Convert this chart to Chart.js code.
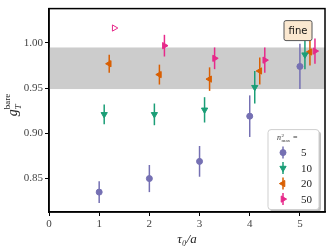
<!DOCTYPE html>
<html>
<head>
<meta charset="utf-8">
<script src="https://cdn.jsdelivr.net/npm/chart.js@4.4.1/dist/chart.umd.min.js"></script>
<style>
  html, body { margin: 0; padding: 0; background: #fff; }
  #wrap { width: 332px; height: 251px; }
</style>
</head>
<body>
<div id="wrap"><canvas id="chart"></canvas></div>
<script>
// data
const legendLabels = ['5', '10', '20', '50'];
const xTicks = [0, 1, 2, 3, 4, 5];
const yTicks = [0.85, 0.90, 0.95, 1.00];
const bandLo = 0.949;
const bandHi = 0.995;

const tau5 = [1, 2, 3, 4, 5];
const g5 = [0.835, 0.850, 0.869, 0.919, 0.974];
const err5 = [0.012, 0.015, 0.017, 0.023, 0.025];

const tau10 = [1.1, 2.1, 3.1, 4.1, 5.1];
const g10 = [0.921, 0.921, 0.926, 0.951, 0.987];
const err10 = [0.011, 0.012, 0.014, 0.018, 0.016];

const tau20 = [1.2, 2.2, 3.2, 4.2, 5.2];
const g20 = [0.977, 0.965, 0.960, 0.969, 0.990];
const err20 = [0.010, 0.011, 0.013, 0.015, 0.015];

const tau50 = [2.3, 3.3, 4.3, 5.3];
const g50 = [0.997, 0.983, 0.981, 0.991];
const err50 = [0.012, 0.012, 0.014, 0.014];

const tau50open = [1.3];
const g50open = [1.0165];
const err50open = [0.002];

const colors = ['#7570b3', '#1b9e77', '#d95f02', '#e7298a'];

const pts = (xs, ys) => xs.map((x, i) => ({ x, y: ys[i] }));

const makeSet = (label, xs, ys, errs, color, style, rot, fill) => ({
    label,
    data: pts(xs, ys),
    errs,
    showLine: false,
    borderColor: color,
    backgroundColor: fill || color,
    pointStyle: style,
    rotation: rot,
    pointRadius: style === 'circle' ? 3 : 3.6,
    pointBorderWidth: 1,
    pointHoverRadius: 3
});

const datasets = [
    makeSet(legendLabels[0], tau5, g5, err5, colors[0], 'circle', 0),
    makeSet(legendLabels[1], tau10, g10, err10, colors[1], 'triangle', 180),
    makeSet(legendLabels[2], tau20, g20, err20, colors[2], 'triangle', 270),
    makeSet(legendLabels[3], tau50, g50, err50, colors[3], 'triangle', 90),
    makeSet('', tau50open, g50open, err50open, colors[3], 'triangle', 90, '#ffffff')
];

// grey band + error bars, under the markers
const underlay = {
    id: 'underlay',
    beforeDatasetsDraw(chart) {
        const { ctx, chartArea, scales } = chart;
        const x = scales.x, y = scales.y;
        ctx.save();
        ctx.fillStyle = '#cccccc';
        const top = y.getPixelForValue(bandHi), bot = y.getPixelForValue(bandLo);
        ctx.fillRect(chartArea.left, top, chartArea.right - chartArea.left, bot - top);
        ctx.lineWidth = 1.5;
        chart.data.datasets.forEach(ds => {
            ctx.strokeStyle = ds.borderColor;
            ds.data.forEach((p, i) => {
                const px = x.getPixelForValue(p.x);
                ctx.beginPath();
                ctx.moveTo(px, y.getPixelForValue(p.y - ds.errs[i]));
                ctx.lineTo(px, y.getPixelForValue(p.y + ds.errs[i]));
                ctx.stroke();
            });
        });
        ctx.restore();
    }
};

// frame, axis title, "fine" tag, legend
const overlay = {
    id: 'overlay',
    afterDraw(chart) {
        const { ctx, chartArea: a } = chart;
        ctx.save();
        ctx.strokeStyle = '#000';
        ctx.lineWidth = 1.5;
        ctx.strokeRect(a.left, a.top, a.right - a.left, a.bottom - a.top);

        // y title g_T^bare
        ctx.save();
        ctx.translate(13, (a.top + a.bottom) / 2 - 6);
        ctx.rotate(-Math.PI / 2);
        ctx.fillStyle = '#222';
        ctx.textBaseline = 'alphabetic';
        ctx.font = 'italic 14px "Liberation Serif", serif';
        ctx.fillText('g', -12, 4);
        ctx.font = 'italic 9px "Liberation Serif", serif';
        ctx.fillText('T', -5, 8);
        ctx.font = '9px "Liberation Serif", serif';
        ctx.fillText('bare', -5, -3);
        ctx.restore();

        // "fine" tag
        const fx = a.right - 41, fy = a.top + 12;
        ctx.fillStyle = '#fbe8d0';
        ctx.strokeStyle = '#555';
        ctx.lineWidth = 1;
        ctx.beginPath();
        ctx.roundRect(fx, fy, 28, 20, 2);
        ctx.fill();
        ctx.stroke();
        ctx.fillStyle = '#111';
        ctx.font = '10px "DejaVu Sans", sans-serif';
        ctx.textAlign = 'center';
        ctx.textBaseline = 'middle';
        ctx.fillText('fine', fx + 14, fy + 10.5);

        // legend box
        const lx = a.left + 219, ly = a.top + 121, lw = 51, lh = 80;
        ctx.fillStyle = 'rgba(0,0,0,0.25)';
        ctx.beginPath();
        ctx.roundRect(lx + 2, ly + 2, lw, lh, 3);
        ctx.fill();
        ctx.fillStyle = '#fff';
        ctx.strokeStyle = '#cfcfcf';
        ctx.beginPath();
        ctx.roundRect(lx, ly, lw, lh, 3);
        ctx.fill();
        ctx.stroke();

        // legend title n^2_max =
        ctx.fillStyle = '#333';
        ctx.textAlign = 'left';
        ctx.textBaseline = 'alphabetic';
        ctx.font = 'italic 8px "Liberation Serif", serif';
        ctx.fillText('n', lx + 9, ly + 10);
        ctx.font = '5px "Liberation Serif", serif';
        ctx.fillText('2', lx + 13.5, ly + 7);
        ctx.fillText('max', lx + 13.5, ly + 12);
        ctx.font = '8px "Liberation Serif", serif';
        ctx.fillText('=', lx + 25, ly + 10);

        const helpers = Chart.helpers;
        chart.data.datasets.slice(0, 4).forEach((ds, i) => {
            const mx = lx + 15, my = ly + 23 + i * 15.5;
            ctx.strokeStyle = ds.borderColor;
            ctx.fillStyle = ds.backgroundColor;
            ctx.lineWidth = 1.5;
            ctx.beginPath();
            ctx.moveTo(mx, my - 6);
            ctx.lineTo(mx, my + 6);
            ctx.stroke();
            ctx.lineWidth = 1;
            helpers.drawPoint(ctx, {
                pointStyle: ds.pointStyle,
                rotation: ds.rotation,
                radius: ds.pointRadius,
                borderWidth: 1
            }, mx, my);
            ctx.fillStyle = '#222';
            ctx.font = '11px "Liberation Serif", serif';
            ctx.textBaseline = 'middle';
            ctx.fillText(ds.label, lx + 33, my + 1);
        });
        ctx.restore();
    }
};

new Chart(document.getElementById('chart'), {
    type: 'scatter',
    data: { datasets },
    plugins: [underlay, overlay],
    options: {
        responsive: true,
        maintainAspectRatio: false,
        animation: false,
        layout: { padding: { top: 7, right: 7, left: 0, bottom: 0 } },
        plugins: {
            legend: { display: false },
            tooltip: { enabled: false }
        },
        scales: {
            x: {
                type: 'linear',
                min: 0,
                max: 5.5,
                afterBuildTicks: s => { s.ticks = xTicks.map(v => ({ value: v })); },
                afterFit: s => { s.height = 39; },
                grid: { drawOnChartArea: false, drawTicks: true, tickLength: 4, tickColor: '#000', tickWidth: 1 },
                border: { display: true, color: '#000', width: 1.5 },
                ticks: {
                    padding: 2,
                    color: '#444',
                    font: { family: '"Liberation Serif", serif', size: 11 },
                    callback: v => String(v)
                },
                title: {
                    display: true,
                    text: 'τ₀/a',
                    color: '#222',
                    padding: { top: 0, bottom: 4 },
                    font: { family: '"Liberation Serif", serif', size: 13, style: 'italic' }
                }
            },
            y: {
                type: 'linear',
                min: 0.813,
                max: 1.038,
                afterBuildTicks: s => { s.ticks = yTicks.map(v => ({ value: v })); },
                afterFit: s => { s.width = 49; },
                grid: { drawOnChartArea: false, drawTicks: true, tickLength: 4, tickColor: '#000', tickWidth: 1 },
                border: { display: true, color: '#000', width: 1.5 },
                ticks: {
                    padding: 2,
                    color: '#444',
                    font: { family: '"Liberation Serif", serif', size: 11 },
                    callback: v => Number(v).toFixed(2)
                }
            }
        }
    }
});
</script>
</body>
</html>
